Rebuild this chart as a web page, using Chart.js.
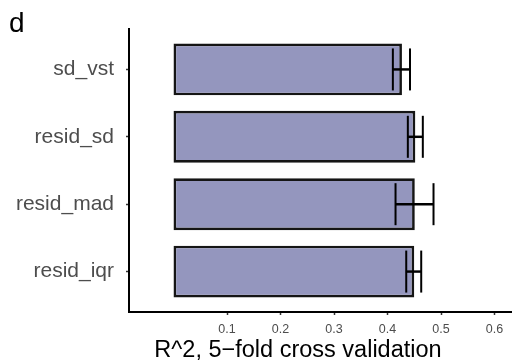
<!DOCTYPE html>
<html>
<head>
<meta charset="utf-8">
<script src="https://cdn.jsdelivr.net/npm/chart.js@4/dist/chart.umd.min.js"></script>
<style>
  html, body { margin: 0; padding: 0; background: #fff; }
  #wrap { width: 512px; height: 362px; }
</style>
</head>
<body>
<div id="wrap"><canvas id="cv" width="512" height="362"></canvas></div>
<script>
const categories = ["sd_vst", "resid_sd", "resid_mad", "resid_iqr"];
const r2Mean = [0.427, 0.452, 0.451, 0.450];
const r2Low = [0.410, 0.438, 0.415, 0.435];
const r2High = [0.442, 0.466, 0.486, 0.463];
const xTicks = [0.1, 0.2, 0.3, 0.4, 0.5, 0.6];
const xTitle = "R^2, 5\u2212fold cross validation";

const FONT = "'Liberation Sans', Arial, Helvetica, sans-serif";
const positions = categories.map((c, i) => i + 1);

const caps = [];
positions.forEach((p, i) => {
  caps.push({ x: r2Low[i], y: p });
  caps.push({ x: r2High[i], y: p });
});

// panel tag and x axis title (title sits left of the panel centre in the original)
const extraText = {
  id: "extraText",
  afterDraw(chart) {
    const ctx = chart.ctx;
    ctx.save();
    ctx.fillStyle = "#000";
    ctx.textBaseline = "alphabetic";
    ctx.font = "28px " + FONT;
    ctx.textAlign = "left";
    ctx.fillText("d", 9, 32);
    ctx.font = "23.5px " + FONT;
    ctx.textAlign = "center";
    ctx.fillText(xTitle, 298, 357);
    ctx.restore();
  }
};

new Chart(document.getElementById("cv"), {
  type: "bar",
  data: {
    datasets: [
      {
        type: "bar",
        indexAxis: "y",
        data: positions.map((p, i) => ({ x: r2Mean[i], y: p })),
        backgroundColor: "#9496be",
        borderColor: "#151515",
        borderWidth: 2.7,
        borderSkipped: false,
        categoryPercentage: 1,
        barPercentage: 0.77,
        grouped: false,
        order: 3
      },
      {
        type: "bar",
        indexAxis: "y",
        data: positions.map((p, i) => ({ x: [r2Low[i], r2High[i]], y: p })),
        backgroundColor: "#000",
        borderWidth: 0,
        barThickness: 1.8,
        grouped: false,
        order: 2
      },
      {
        type: "scatter",
        data: caps,
        pointStyle: "line",
        rotation: 90,
        radius: 21,
        hoverRadius: 21,
        borderColor: "#000",
        borderWidth: 2,
        order: 1
      }
    ]
  },
  options: {
    responsive: false,
    animation: false,
    indexAxis: "y",
    layout: { autoPadding: false, padding: { top: 29, left: 0, right: 0, bottom: 0 } },
    plugins: {
      legend: { display: false },
      tooltip: { enabled: false }
    },
    scales: {
      x: {
        type: "linear",
        min: -0.0832,
        max: 0.6327,
        offset: false,
        afterBuildTicks: (axis) => { axis.ticks = xTicks.map((v) => ({ value: v })); },
        afterFit: (axis) => { axis.height = 50; axis.paddingLeft = 0; axis.paddingRight = 0; },
        grid: { offset: false, drawOnChartArea: false, drawTicks: true, tickLength: 3, tickColor: "#333", tickWidth: 1.5 },
        border: { display: true, color: "#000", width: 2 },
        ticks: {
          color: "#4d4d4d",
          font: { family: FONT, size: 12.5 },
          padding: 7,
          maxRotation: 0,
          callback: (v) => v.toFixed(1)
        }
      },
      y: {
        type: "linear",
        min: 0.4,
        max: 4.6,
        reverse: true,
        offset: false,
        afterBuildTicks: (axis) => { axis.ticks = positions.map((v) => ({ value: v })); },
        afterFit: (axis) => { axis.width = 129; axis.paddingTop = 0; axis.paddingBottom = 0; },
        grid: { offset: false, drawOnChartArea: false, drawTicks: true, tickLength: 3, tickColor: "#333", tickWidth: 1.5 },
        border: { display: true, color: "#000", width: 2 },
        ticks: {
          color: "#4d4d4d",
          font: { family: FONT, size: 21 },
          padding: 12,
          callback: (v) => categories[Math.round(v) - 1] || ""
        }
      }
    }
  },
  plugins: [extraText]
});
</script>
</body>
</html>
